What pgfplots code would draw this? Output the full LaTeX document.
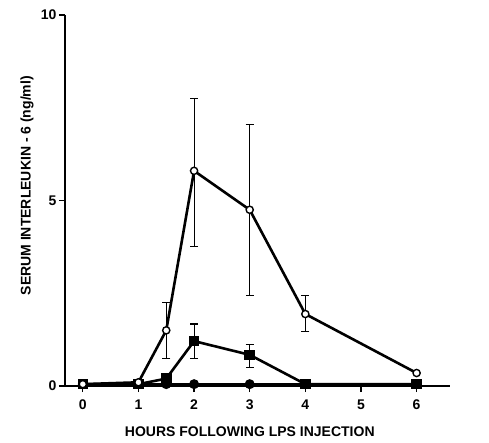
\documentclass[border=0pt]{standalone}
\usepackage{fontspec}
\setmainfont{Liberation Sans}[BoldFont={Liberation Sans Bold}]
\usepackage{pgfplots}
\pgfplotsset{compat=1.18}

\begin{document}
\begin{tikzpicture}
\begin{axis}[
  name=main,
  scale only axis,
  width=385pt, height=371pt,
  xmin=-0.32, xmax=6.6,
  ymin=0, ymax=10,
  axis x line*=bottom, axis y line*=left,
  axis line style={line width=1.6pt, -},
  xtick={0,1,2,3,4,5,6},
  ytick={0,5,10},
  tick style={line width=1.3pt, black},
  major tick length=6pt,
  tick align=outside,
  /pgf/number format/assume math mode=true,
  ticklabel style={font=\bfseries\fontsize{14}{14}\selectfont},
  xticklabel style={yshift=-4pt},
  yticklabel style={xshift=1pt},
  xlabel={\bfseries HOURS FOLLOWING LPS INJECTION},
  ylabel={\bfseries SERUM INTERLEUKIN - 6 (ng/ml)},
  xlabel style={font=\bfseries\fontsize{14}{14}\selectfont, at={(axis description cs:0.48,0)}, anchor=center, yshift=-46pt},
  ylabel style={font=\bfseries\fontsize{14}{14}\selectfont, at={(axis description cs:0,0.54)}, anchor=center, yshift=38pt},
  clip=false,
]
\addplot[black, line width=2.6pt, mark=*, mark size=3.6pt] coordinates {
(0,0.05) (1,0.05) (1.5,0.05) (2,0.05) (3,0.05) (4,0.05) (6,0.05)
};
\addplot[black, line width=2.6pt, mark=square*, mark size=4pt,
  error bars/.cd, y dir=both, y explicit,
  error bar style={line width=1.1pt}, error mark options={rotate=90, mark size=4pt, line width=1.1pt}] coordinates {
(0,0.05) (1,0.05) (1.5,0.2)
(2,1.21) += (0,0.46) -= (0,0.46)
(3,0.84) += (0,0.29) -= (0,0.35)
(4,0.05) (6,0.05)
};
\addplot[black, line width=2.6pt, mark=*, mark size=3.6pt,
  mark options={fill=white, line width=1.4pt},
  error bars/.cd, y dir=both, y explicit,
  error bar style={line width=1.1pt}, error mark options={rotate=90, mark size=4pt, line width=1.1pt}] coordinates {
(0,0.05) (1,0.1)
(1.5,1.5) += (0,0.74) -= (0,0.77)
(2,5.8) += (0,1.96) -= (0,2.03)
(3,4.75) += (0,2.31) -= (0,2.3)
(4,1.94) += (0,0.51) -= (0,0.48)
(6,0.35)
};
\end{axis}
\path[use as bounding box] ([xshift=-65pt,yshift=-56pt]main.south west) rectangle ([xshift=39pt,yshift=15pt]main.north east);
\end{tikzpicture}
\end{document}
